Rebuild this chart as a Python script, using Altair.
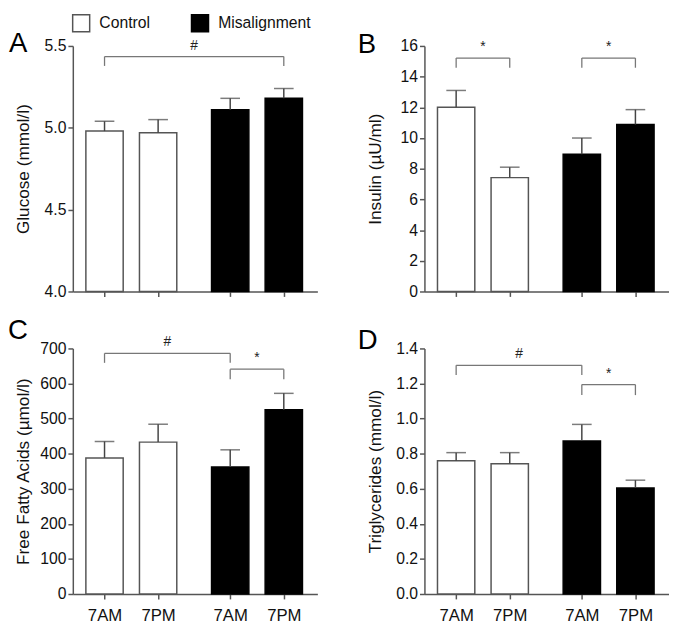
import altair as alt
import pandas as pd

# ---------------- data ----------------
groups = ["Control", "Control", "Misalignment", "Misalignment"]
times = ["7AM", "7PM", "7AM", "7PM"]

glucose_mean = [4.98, 4.97, 5.11, 5.18]
glucose_upper = [5.04, 5.05, 5.18, 5.24]
insulin_mean = [12.0, 7.42, 8.95, 10.88]
insulin_upper = [13.1, 8.1, 10.0, 11.85]
ffa_mean = [388, 433, 362, 525]
ffa_upper = [435, 484, 411, 572]
tg_mean = [0.760, 0.743, 0.873, 0.605]
tg_upper = [0.806, 0.806, 0.967, 0.649]

# significance brackets: from bar index, to bar index, bracket level, leg end, label
glucose_br = dict(a=[0], b=[3], y=[5.435], leg=[5.378], label=["#"])
insulin_br = dict(a=[0, 2], b=[1, 3], y=[15.21, 15.21], leg=[14.58, 14.58], label=["*", "*"])
ffa_br = dict(a=[0, 2], b=[2, 3], y=[686, 641], leg=[659, 612], label=["#", "*"])
tg_br = dict(a=[0, 2], b=[2, 3], y=[1.304, 1.194], leg=[1.249, 1.134], label=["#", "*"])

# ---------------- layout helpers ----------------
FONT = "Liberation Sans"
GAP = 0.345  # extra space between the two groups (in bar steps)
POS = [i + (GAP if g == "Misalignment" else 0) for i, g in enumerate(groups)]
W, H = 249, 250
AXC = "#555555"


def label_expr():
    parts = []
    for i in range(len(POS) - 1):
        mid = (POS[i] + POS[i + 1]) / 2
        parts.append(f"datum.value < {mid} ? '{times[i]}' : ")
    return "".join(parts) + f"'{times[-1]}'"


def panel(letter, mean, upper, br, ytitle, ydomain, yticks, fmt, base,
          show_x_labels, title_x, letter_xy, legend):
    df = pd.DataFrame({"group": groups, "time": times, "x": POS,
                       "mean": mean, "upper": upper})
    xscale = alt.Scale(domain=[-0.5, 3.88], nice=False, zero=False)
    yscale = alt.Scale(domain=ydomain, nice=False, zero=False)
    xaxis = alt.Axis(values=POS, labelExpr=label_expr(), labels=show_x_labels,
                     title=None, grid=False, tickSize=5, tickColor=AXC,
                     domainColor=AXC, domainWidth=1.5, tickWidth=1.5,
                     labelFontSize=17, labelPadding=9, labelColor="#111111",
                     labelFont=FONT, labelOverlap=False)
    yaxis = alt.Axis(values=yticks, format=fmt, title=ytitle, titleX=title_x,
                     titleFontSize=17.5, titleFontWeight="normal", titleFont=FONT,
                     titleColor="#111111", grid=False, tickSize=5,
                     tickColor=AXC, domainColor=AXC, domainWidth=1.5,
                     tickWidth=1.5, labelFontSize=16, labelPadding=2,
                     labelColor="#111111", labelFont=FONT, labelOverlap=False,
                     labelFlush=False)

    def X(field):
        return alt.X(field, scale=xscale, axis=xaxis)

    def Y(field):
        return alt.Y(field, scale=yscale, axis=yaxis)

    fill = alt.Fill("group:N", scale=alt.Scale(domain=["Control", "Misalignment"],
                                               range=["white", "black"]), legend=legend)
    stroke = alt.Stroke("group:N", scale=alt.Scale(domain=["Control", "Misalignment"],
                                                   range=[AXC, "black"]), legend=legend)
    base_chart = alt.Chart(df)
    bars = base_chart.mark_bar(size=38, strokeWidth=1.5).encode(
        x=X("x:Q"), y=Y("mean:Q"), y2=alt.datum(base), fill=fill, stroke=stroke)
    err = base_chart.mark_rule(color="#444444", strokeWidth=1.5).encode(
        x=X("x:Q"), y=Y("mean:Q"), y2="upper:Q")
    cap = base_chart.mark_tick(orient="horizontal", size=20, thickness=1.5,
                               color="#444444").encode(x=X("x:Q"), y=Y("upper:Q"))

    bdf = pd.DataFrame({"x1": [POS[i] for i in br["a"]], "x2": [POS[i] for i in br["b"]],
                        "y": br["y"], "leg": br["leg"], "label": br["label"]})
    bch = alt.Chart(bdf)
    hline = bch.mark_rule(color="#777777", strokeWidth=1.3).encode(
        x=X("x1:Q"), x2="x2:Q", y=Y("y:Q"))
    legs = bch.transform_fold(["x1", "x2"]).mark_rule(
        color="#777777", strokeWidth=1.3).encode(
        x=X("value:Q"), y=Y("y:Q"), y2="leg:Q")
    txt = bch.transform_calculate(xm="(datum.x1 + datum.x2) / 2").mark_text(
        baseline="bottom", dy=-4, fontSize=14, font=FONT, color="#222222").encode(
        x=X("xm:Q"), y=Y("y:Q"), text="label:N")

    let = alt.Chart(pd.DataFrame({"t": [letter]})).mark_text(
        fontSize=28, font=FONT, align="left", baseline="alphabetic",
        color="black").encode(text="t:N", x=alt.value(letter_xy[0]),
                              y=alt.value(letter_xy[1]))

    return alt.layer(bars, err, cap, hline, legs, txt, let).properties(width=W, height=H)


legend_a = alt.Legend(orient="none", legendX=-1, legendY=-33, direction="horizontal",
                      title=None, symbolType="square", symbolSize=300,
                      symbolStrokeWidth=1.5, labelFontSize=16, labelFont=FONT,
                      labelColor="#111111", labelOffset=9, columnPadding=38,
                      padding=0)

pA = panel("A", glucose_mean, glucose_upper, glucose_br, "Glucose (mmol/l)",
           [4.0, 5.5], [4.0, 4.5, 5.0, 5.5], ".1f", 4.0, False, -41, (-65, 6), legend_a)
pB = panel("B", insulin_mean, insulin_upper, insulin_br, "Insulin (µU/ml)",
           [0, 16], list(range(0, 17, 2)), "d", 0, False, -41, (-68, 7), None)
pC = panel("C", ffa_mean, ffa_upper, ffa_br, "Free Fatty Acids (µmol/l)",
           [0, 700], list(range(0, 701, 100)), "d", 0, True, -41, (-66, -10), None)
pD = panel("D", tg_mean, tg_upper, tg_br, "Triglycerides (mmol/l)",
           [0, 1.4], [0, 0.2, 0.4, 0.6, 0.8, 1.0, 1.2, 1.4], ".1f", 0, True, -41, (-68, 1), None)

chart = alt.concat(pA, pB, pC, pD, columns=2,
                   spacing={"row": 18, "column": 41}).resolve_scale(
    fill="independent", stroke="independent").properties(padding=0).configure_view(
    stroke=None)

chart.save("out.html", embed_options={"renderer": "svg", "actions": False})
